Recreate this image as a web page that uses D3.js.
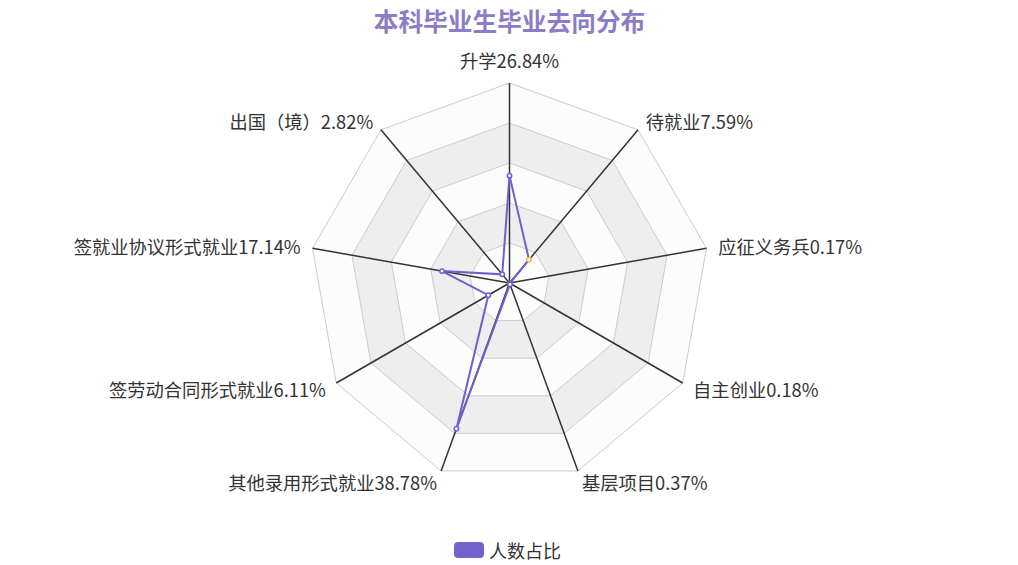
<!DOCTYPE html>
<html><head><meta charset="utf-8">
<script src="https://cdn.jsdelivr.net/npm/d3@7"></script>
<style>body{margin:0;background:#fff;}svg{display:block;font-family:"Noto Sans CJK SC","Noto Sans",sans-serif;}</style>
</head><body>
<script>
const categories = ["升学","待就业","应征义务兵","自主创业","基层项目","其他录用形式就业","签劳动合同形式就业","签就业协议形式就业","出国（境）"];
const values = [26.84, 7.59, 0.17, 0.18, 0.37, 38.78, 6.11, 17.14, 2.82];
const ringTicks = [10, 20, 30, 40, 50];
const seriesName = "人数占比";
const titleText = "本科毕业生毕业去向分布";

const W = 1018, H = 565, cx = 509.5, cy = 283, R = 200, maxV = 50;
const svg = d3.select("body").append("svg").attr("width", W).attr("height", H);
const r = d3.scaleLinear().domain([0, maxV]).range([0, R]);
const n = categories.length;
const ang = d3.scaleLinear().domain([0, n]).range([0, 2 * Math.PI]);
const pt = (i, v) => [cx + r(v) * Math.sin(ang(i)), cy - r(v) * Math.cos(ang(i))];

// split areas
const ringVals = [0, ...ringTicks];
for (let k = ringVals.length - 1; k >= 1; k--) {
  const outer = d3.range(n).map(i => pt(i, ringVals[k]));
  svg.append("path")
    .attr("d", d3.line()(outer) + "Z")
    .attr("fill", k % 2 === 0 ? "#eeeeee" : "#fcfcfc");
}
// split lines
ringTicks.forEach(t => {
  svg.append("path").attr("d", d3.line()(d3.range(n).map(i => pt(i, t))) + "Z")
    .attr("fill", "none").attr("stroke", "#cccccc").attr("stroke-width", 1);
});
// axis lines
categories.forEach((c, i) => {
  const [x, y] = pt(i, maxV);
  svg.append("line").attr("x1", cx).attr("y1", cy).attr("x2", x).attr("y2", y)
    .attr("stroke", "#333").attr("stroke-width", 1.5);
});
// labels
categories.forEach((c, i) => {
  const a = ang(i), rr = R + 12;
  const x = cx + rr * Math.sin(a), y = cy - rr * Math.cos(a);
  const s = Math.sin(a);
  const anchor = Math.abs(s) < 1e-6 ? "middle" : (s > 0 ? "start" : "end");
  svg.append("text").attr("x", x).attr("y", Math.abs(s) < 1e-6 ? y - 11 : y)
    .attr("text-anchor", anchor)
    .attr("dominant-baseline", "central")
    .attr("font-size", 18.3).attr("fill", "#333")
    .text(c + values[i].toFixed(2) + "%");
});
// series
const poly = values.map((v, i) => pt(i, v));
svg.append("path").attr("d", d3.line()(poly) + "Z")
  .attr("fill", "none").attr("stroke", "#6e5fd0").attr("stroke-width", 2);
poly.forEach((p, i) => {
  svg.append("circle").attr("cx", p[0]).attr("cy", p[1]).attr("r", 2.2)
    .attr("fill", "#fff").attr("stroke", i === 1 ? "#f7b84b" : "#6e5fd0").attr("stroke-width", 1.5);
});
// title
svg.append("text").attr("x", cx).attr("y", 20).attr("text-anchor", "middle")
  .attr("dominant-baseline", "central")
  .attr("font-size", 24.7).attr("font-weight", "bold").attr("fill", "#8c7cc6").text(titleText);
// legend
svg.append("rect").attr("x", 454).attr("y", 542).attr("width", 30).attr("height", 16).attr("rx", 4)
  .attr("fill", "#7262cc");
svg.append("text").attr("x", 489).attr("y", 550).attr("dominant-baseline", "central")
  .attr("font-size", 18).attr("fill", "#333").text(seriesName);
</script>
</body></html>
